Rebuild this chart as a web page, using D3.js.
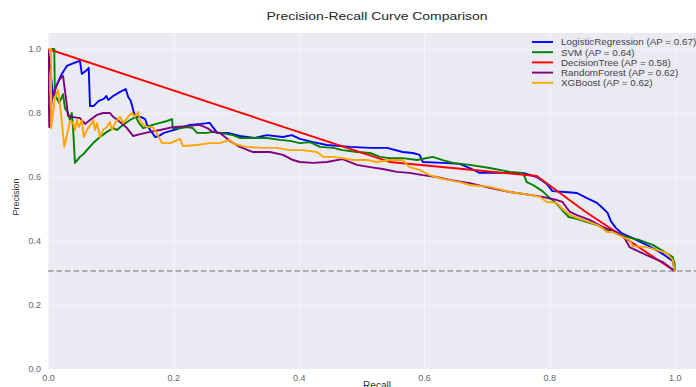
<!DOCTYPE html>
<html>
<head>
<meta charset="utf-8">
<script src="https://cdn.jsdelivr.net/npm/d3@7"></script>
<style>
  html, body { margin: 0; padding: 0; background: #fff; }
  svg { display: block; font-family: "Liberation Sans", Arial, sans-serif; }
</style>
</head>
<body>
<div id="chart"></div>
<script>
const modelNames = ['LogisticRegression', 'SVM', 'DecisionTree', 'RandomForest', 'XGBoost'];
const apValues = [0.67, 0.64, 0.58, 0.62, 0.62];
const modelColors = ['blue', 'green', 'red', 'purple', 'orange'];
const baseline = 0.306;
const xTicks = [0.0, 0.2, 0.4, 0.6, 0.8, 1.0];
const yTicks = [0.0, 0.2, 0.4, 0.6, 0.8, 1.0];

const lrRecall = [0, 0.008, 0.016, 0.022, 0.030, 0.041, 0.051, 0.054, 0.062, 0.065, 0.067, 0.073, 0.081, 0.089, 0.093, 0.096, 0.104, 0.115, 0.124, 0.128, 0.132, 0.136, 0.139, 0.148, 0.155, 0.158, 0.164, 0.171, 0.177, 0.185, 0.196, 0.211, 0.226, 0.244, 0.258, 0.263, 0.270, 0.287, 0.306, 0.330, 0.349, 0.375, 0.389, 0.402, 0.423, 0.445, 0.482, 0.514, 0.541, 0.566, 0.582, 0.593, 0.598, 0.630, 0.657, 0.673, 0.689, 0.710, 0.758, 0.780, 0.796, 0.805, 0.825, 0.844, 0.860, 0.876, 0.885, 0.893, 0.898, 0.906, 0.915, 0.933, 0.955, 0.976, 0.997, 1.0];
const lrPrecision = [1.0, 0.856, 0.897, 0.922, 0.947, 0.956, 0.963, 0.922, 0.934, 0.941, 0.822, 0.822, 0.838, 0.844, 0.853, 0.841, 0.853, 0.866, 0.875, 0.850, 0.838, 0.809, 0.788, 0.788, 0.781, 0.763, 0.744, 0.725, 0.728, 0.738, 0.744, 0.753, 0.763, 0.766, 0.769, 0.756, 0.738, 0.738, 0.728, 0.722, 0.731, 0.725, 0.731, 0.719, 0.709, 0.700, 0.694, 0.691, 0.691, 0.678, 0.675, 0.669, 0.647, 0.644, 0.641, 0.628, 0.613, 0.613, 0.613, 0.600, 0.578, 0.556, 0.553, 0.550, 0.534, 0.519, 0.503, 0.488, 0.463, 0.441, 0.425, 0.409, 0.388, 0.366, 0.338, 0.306];

const svmRecall = [0, 0.010, 0.011, 0.018, 0.024, 0.027, 0.032, 0.035, 0.038, 0.040, 0.043, 0.051, 0.057, 0.062, 0.072, 0.083, 0.094, 0.104, 0.110, 0.120, 0.131, 0.140, 0.145, 0.152, 0.167, 0.179, 0.190, 0.198, 0.199, 0.211, 0.222, 0.231, 0.238, 0.254, 0.263, 0.274, 0.295, 0.306, 0.327, 0.349, 0.370, 0.386, 0.402, 0.418, 0.434, 0.455, 0.470, 0.493, 0.514, 0.530, 0.545, 0.566, 0.589, 0.614, 0.630, 0.646, 0.673, 0.705, 0.737, 0.758, 0.764, 0.774, 0.789, 0.801, 0.812, 0.823, 0.831, 0.844, 0.860, 0.876, 0.892, 0.907, 0.923, 0.944, 0.965, 0.981, 0.997, 1.0, 1.0];
const svmPrecision = [1.0, 1.0, 0.856, 0.831, 0.859, 0.816, 0.800, 0.778, 0.800, 0.753, 0.644, 0.663, 0.672, 0.684, 0.706, 0.725, 0.741, 0.753, 0.747, 0.763, 0.778, 0.788, 0.769, 0.753, 0.763, 0.769, 0.775, 0.781, 0.753, 0.753, 0.756, 0.753, 0.738, 0.738, 0.741, 0.738, 0.731, 0.722, 0.722, 0.722, 0.716, 0.713, 0.706, 0.709, 0.694, 0.691, 0.684, 0.678, 0.675, 0.663, 0.659, 0.659, 0.653, 0.663, 0.653, 0.644, 0.638, 0.628, 0.616, 0.613, 0.584, 0.575, 0.556, 0.534, 0.516, 0.491, 0.475, 0.469, 0.459, 0.450, 0.434, 0.425, 0.413, 0.403, 0.388, 0.369, 0.350, 0.328, 0.306];

const dtRecall = [0, 0.545, 0.780, 0.856, 1.0];
const dtPrecision = [1.0, 0.647, 0.603, 0.494, 0.306];

const rfRecall = [0, 0.002, 0.006, 0.013, 0.019, 0.024, 0.029, 0.032, 0.038, 0.051, 0.059, 0.067, 0.078, 0.088, 0.099, 0.104, 0.115, 0.126, 0.136, 0.147, 0.163, 0.179, 0.199, 0.222, 0.242, 0.254, 0.263, 0.274, 0.290, 0.306, 0.327, 0.354, 0.375, 0.391, 0.402, 0.423, 0.445, 0.470, 0.493, 0.514, 0.534, 0.557, 0.577, 0.598, 0.620, 0.641, 0.673, 0.705, 0.737, 0.769, 0.789, 0.812, 0.821, 0.828, 0.833, 0.844, 0.864, 0.885, 0.907, 0.920, 0.928, 0.944, 0.965, 0.981, 1.0];
const rfPrecision = [1.0, 0.756, 0.841, 0.884, 0.906, 0.916, 0.841, 0.791, 0.788, 0.784, 0.766, 0.778, 0.794, 0.800, 0.800, 0.788, 0.772, 0.753, 0.728, 0.734, 0.741, 0.747, 0.756, 0.759, 0.763, 0.753, 0.741, 0.738, 0.713, 0.694, 0.678, 0.678, 0.669, 0.653, 0.647, 0.644, 0.647, 0.656, 0.638, 0.631, 0.625, 0.616, 0.613, 0.606, 0.600, 0.591, 0.581, 0.566, 0.553, 0.544, 0.538, 0.528, 0.522, 0.503, 0.491, 0.481, 0.466, 0.444, 0.428, 0.409, 0.381, 0.366, 0.347, 0.334, 0.306];

const xgbRecall = [0, 0.005, 0.005, 0.011, 0.016, 0.021, 0.026, 0.032, 0.035, 0.040, 0.043, 0.046, 0.049, 0.054, 0.057, 0.062, 0.069, 0.072, 0.075, 0.078, 0.083, 0.088, 0.094, 0.099, 0.102, 0.107, 0.115, 0.120, 0.126, 0.134, 0.139, 0.144, 0.148, 0.158, 0.167, 0.175, 0.182, 0.195, 0.211, 0.215, 0.238, 0.258, 0.274, 0.290, 0.297, 0.317, 0.343, 0.365, 0.386, 0.407, 0.429, 0.439, 0.455, 0.470, 0.486, 0.509, 0.525, 0.545, 0.566, 0.577, 0.593, 0.609, 0.630, 0.657, 0.673, 0.705, 0.737, 0.769, 0.785, 0.796, 0.812, 0.821, 0.833, 0.844, 0.864, 0.880, 0.892, 0.901, 0.917, 0.928, 0.933, 0.955, 0.971, 0.987, 0.997, 1.0];
const xgbPrecision = [1.0, 1.0, 0.753, 0.847, 0.872, 0.794, 0.694, 0.747, 0.775, 0.769, 0.747, 0.778, 0.756, 0.778, 0.725, 0.747, 0.766, 0.778, 0.747, 0.769, 0.725, 0.747, 0.756, 0.772, 0.747, 0.769, 0.788, 0.769, 0.784, 0.800, 0.788, 0.803, 0.769, 0.756, 0.756, 0.731, 0.706, 0.706, 0.719, 0.697, 0.700, 0.706, 0.706, 0.716, 0.703, 0.694, 0.691, 0.691, 0.684, 0.684, 0.678, 0.663, 0.663, 0.659, 0.653, 0.653, 0.647, 0.653, 0.653, 0.631, 0.622, 0.606, 0.594, 0.584, 0.575, 0.569, 0.553, 0.544, 0.538, 0.522, 0.519, 0.500, 0.481, 0.472, 0.459, 0.447, 0.428, 0.428, 0.413, 0.403, 0.384, 0.381, 0.372, 0.363, 0.341, 0.306];

const curves = [
  [lrRecall, lrPrecision],
  [svmRecall, svmPrecision],
  [dtRecall, dtPrecision],
  [rfRecall, rfPrecision],
  [xgbRecall, xgbPrecision]
].map(([r, p], i) => ({
  name: modelNames[i],
  ap: apValues[i],
  color: modelColors[i],
  points: r.map((v, j) => ({ r: v, p: p[j] }))
}));

const width = 696;
const height = 387;
const margin = { left: 48, top: 33, bottom: 18 };
const plotRight = 706;

const svg = d3.select('#chart')
  .append('svg')
    .attr('width', width)
    .attr('height', height);

const x = d3.scaleLinear().domain([0, 1.05]).range([margin.left, plotRight]);
const y = d3.scaleLinear().domain([0, 1.05]).range([height - margin.bottom, margin.top]);

// axes background (seaborn darkgrid look)
svg.append('rect')
  .attr('x', x(0))
  .attr('y', y(1.05))
  .attr('width', x(1.05) - x(0))
  .attr('height', y(0) - y(1.05))
  .attr('fill', '#eaeaf2');

svg.append('defs').append('clipPath')
  .attr('id', 'plot-clip')
  .append('rect')
    .attr('x', x(0))
    .attr('y', y(1.05))
    .attr('width', x(1.05) - x(0))
    .attr('height', y(0) - y(1.05));

// grid
const xAxis = svg.append('g')
  .attr('transform', `translate(0,${y(0)})`)
  .call(d3.axisBottom(x).tickValues(xTicks).tickFormat(d3.format('.1f')).tickSize(-(y(0) - y(1.05))).tickPadding(6));
const yAxis = svg.append('g')
  .attr('transform', `translate(${x(0)},0)`)
  .call(d3.axisLeft(y).tickValues(yTicks).tickFormat(d3.format('.1f')).tickSize(-(x(1.05) - x(0))).tickPadding(7));

[xAxis, yAxis].forEach(g => {
  g.select('.domain').remove();
  g.selectAll('.tick line').attr('stroke', '#fff').attr('stroke-width', 1).attr('stroke-opacity', 0.45);
  g.selectAll('.tick text').attr('fill', '#666').attr('font-size', 9);
});

// baseline (no-skill)
svg.append('line')
  .attr('x1', x(0))
  .attr('x2', x(1.05))
  .attr('y1', y(baseline))
  .attr('y2', y(baseline))
  .attr('stroke', '#999')
  .attr('stroke-width', 1.5)
  .attr('stroke-dasharray', '5.5,3');

const line = d3.line()
  .x(d => x(d.r))
  .y(d => y(d.p));

svg.append('g')
  .attr('clip-path', 'url(#plot-clip)')
  .selectAll('path')
  .data(curves)
  .enter()
  .append('path')
    .attr('d', d => line(d.points))
    .attr('fill', 'none')
    .attr('stroke', d => d.color)
    .attr('stroke-width', 1.9)
    .attr('stroke-linejoin', 'round');

// legend
const legend = svg.append('g')
  .attr('transform', 'translate(532,42)');
const rows = legend.selectAll('g')
  .data(curves)
  .enter()
  .append('g')
    .attr('transform', (d, i) => `translate(0,${i * 10.2})`);
rows.append('line')
  .attr('x1', 0)
  .attr('x2', 21)
  .attr('stroke', d => d.color)
  .attr('stroke-width', 1.9);
rows.append('text')
  .attr('x', 29)
  .attr('dy', '0.35em')
  .attr('font-size', 9.8)
  .attr('fill', '#444')
  .text(d => `${d.name} (AP = ${d.ap.toFixed(2)})`);

// title and labels
svg.append('text')
  .attr('x', 377)
  .attr('y', 20)
  .attr('text-anchor', 'middle')
  .attr('font-size', 11)
  .attr('fill', '#262626')
  .attr('textLength', 221)
  .attr('lengthAdjust', 'spacingAndGlyphs')
  .text('Precision-Recall Curve Comparison');

svg.append('text')
  .attr('transform', 'translate(19,197) rotate(-90)')
  .attr('text-anchor', 'middle')
  .attr('font-size', 9)
  .attr('fill', '#333')
  .text('Precision');

svg.append('text')
  .attr('x', 377)
  .attr('y', 389)
  .attr('text-anchor', 'middle')
  .attr('font-size', 10)
  .attr('fill', '#333')
  .text('Recall');
</script>
</body>
</html>
